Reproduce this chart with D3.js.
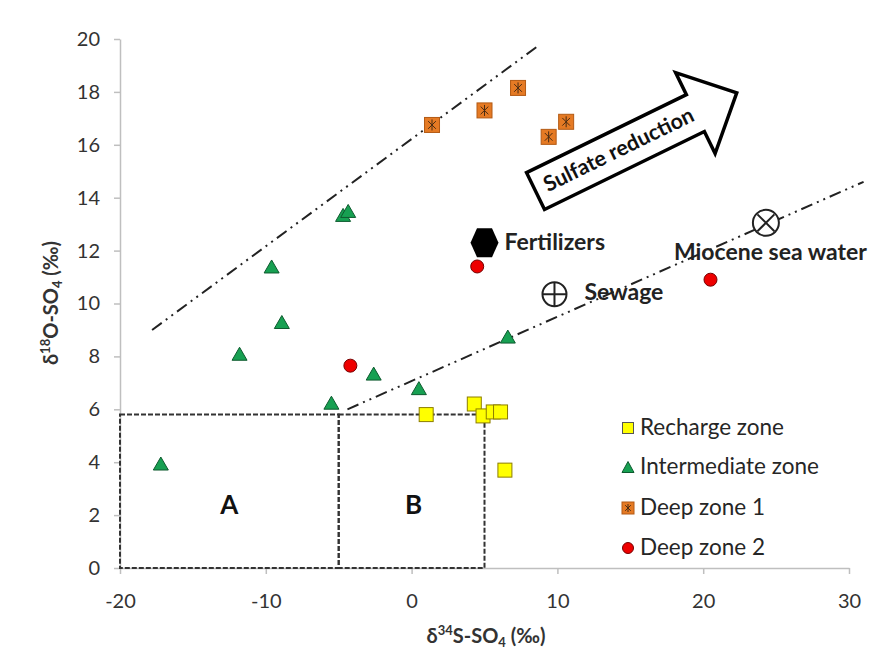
<!DOCTYPE html>
<html>
<head>
<meta charset="utf-8">
<script src="https://cdn.jsdelivr.net/npm/d3@7"></script>
<style>
  html, body { margin: 0; padding: 0; background: #fff; }
  svg { display: block; font-family: Lato, "Open Sans", sans-serif; }
</style>
</head>
<body>
<svg id="chart" width="875" height="652"></svg>
<script>
// δ34S (x) and δ18O (y) of dissolved sulfate, per groundwater zone
const rechargeX = [1.0, 4.3, 4.9, 5.6, 6.1, 6.4];
const rechargeY = [5.8, 6.2, 5.75, 5.9, 5.9, 3.7];

const intermediateX = [-17.2, -11.8, -9.6, -8.9, -4.7, -4.35, -5.5, -2.6, 0.5, 6.6];
const intermediateY = [3.95, 8.1, 11.4, 9.3, 13.35, 13.5, 6.25, 7.35, 6.8, 8.75];

const deep1X = [1.4, 5.0, 7.3, 9.4, 10.6];
const deep1Y = [16.75, 17.3, 18.15, 16.3, 16.87];

const deep2X = [4.5, -4.2, 20.5];
const deep2Y = [11.4, 7.65, 10.9];

// end-member sources
const sourceNames = ["Fertilizers", "Sewage", "Miocene sea water"];
const sourceX = [5.0, 9.8, 24.3];
const sourceY = [12.3, 10.35, 13.05];

// trend lines (start / end)
const upperLineX = [-17.8, 8.7];
const upperLineY = [9.0, 19.75];
const lowerLineX = [-4.4, 31.0];
const lowerLineY = [6.0, 14.6];

// boxed fields A and B
const boxNames = ["A", "B"];
const boxX0 = [-20, -5];
const boxX1 = [-5, 5];
const boxTop = [5.8, 5.8];

// sulfate-reduction arrow: tail centre and tip
const arrowX = [8.5, 22.3];
const arrowY = [14.25, 17.96];

const xTicks = [-20, -10, 0, 10, 20, 30];
const yTicks = [0, 2, 4, 6, 8, 10, 12, 14, 16, 18, 20];
const legendNames = ["Recharge zone", "Intermediate zone", "Deep zone 1", "Deep zone 2"];

const svg = d3.select("#chart");
const x = d3.scaleLinear().domain([-20, 30]).range([120, 849]);
const y = d3.scaleLinear().domain([0, 20]).range([568, 39]);

const axisColor = "#bfbfbf";
const tickText = "#333";
const fmt = d => String(d);

// axes
const gx = svg.append("g").attr("transform", `translate(0,${y(0)})`)
  .call(d3.axisBottom(x).tickValues(xTicks).tickFormat(fmt).tickSize(6).tickSizeOuter(0).tickPadding(20));
const gy = svg.append("g").attr("transform", `translate(${x(-20)},0)`)
  .call(d3.axisLeft(y).tickValues(yTicks).tickFormat(fmt).tickSize(6).tickSizeOuter(0).tickPadding(14));
[gx, gy].forEach(g => {
  g.select(".domain").attr("stroke", axisColor).attr("stroke-width", 1.5);
  g.selectAll(".tick line").attr("stroke", axisColor).attr("stroke-width", 1.5);
  g.selectAll(".tick text").attr("fill", tickText).attr("font-size", 20)
    .attr("font-family", "Lato, sans-serif");
});

// axis titles
const xt = svg.append("text").attr("x", 486).attr("y", 643).attr("text-anchor", "middle")
  .attr("font-size", 20).attr("font-weight", "bold").attr("fill", "#333");
xt.append("tspan").text("δ");
xt.append("tspan").attr("font-size", 13).attr("dy", -8).text("34");
xt.append("tspan").attr("dy", 8).text("S-SO");
xt.append("tspan").attr("font-size", 13).attr("dy", 4).text("4");
xt.append("tspan").attr("dy", -4).text(" (‰)");

const yt = svg.append("text").attr("transform", "translate(58,303) rotate(-90)")
  .attr("text-anchor", "middle").attr("font-size", 20).attr("font-weight", "bold").attr("fill", "#333");
yt.append("tspan").text("δ");
yt.append("tspan").attr("font-size", 13).attr("dy", -8).text("18");
yt.append("tspan").attr("dy", 8).text("O-SO");
yt.append("tspan").attr("font-size", 13).attr("dy", 4).text("4");
yt.append("tspan").attr("dy", -4).text(" (‰)");

// dashed boxes
const boxes = svg.append("g");
boxNames.forEach((name, i) => {
  boxes.append("rect")
    .attr("x", x(boxX0[i])).attr("y", y(boxTop[i]))
    .attr("width", x(boxX1[i]) - x(boxX0[i])).attr("height", y(0) - y(boxTop[i]))
    .attr("fill", "none").attr("stroke", "#333").attr("stroke-width", 2)
    .attr("stroke-dasharray", "5,2");
  boxes.append("text")
    .attr("x", (x(boxX0[i]) + x(boxX1[i])) / 2 + (i === 0 ? 0 : 2)).attr("y", y(2.3))
    .attr("text-anchor", "middle").attr("dominant-baseline", "middle")
    .attr("font-size", 26).attr("font-weight", "bold").attr("fill", "#111").text(name);
});

// trend lines
const line = d3.line();
[[upperLineX, upperLineY], [lowerLineX, lowerLineY]].forEach(([lx, ly]) => {
  svg.append("path")
    .attr("d", line(lx.map((v, i) => [x(v), y(ly[i])])))
    .attr("fill", "none").attr("stroke", "#222").attr("stroke-width", 2)
    .attr("stroke-dasharray", "12,5,2,5,2,5");
});

// sulfate-reduction block arrow
(function () {
  const x0 = x(arrowX[0]), y0 = y(arrowY[0]);
  const x1 = x(arrowX[1]), y1 = y(arrowY[1]);
  const len = Math.hypot(x1 - x0, y1 - y0);
  const ang = Math.atan2(y1 - y0, x1 - x0) * 180 / Math.PI;
  const shaftH = 20.5, headH = 45, headL = 46;
  const g = svg.append("g").attr("transform", `translate(${x0},${y0}) rotate(${ang})`);
  g.append("path")
    .attr("d", `M0,${-shaftH} L${len - headL},${-shaftH} L${len - headL},${-headH} L${len},0 ` +
               `L${len - headL},${headH} L${len - headL},${shaftH} L0,${shaftH} Z`)
    .attr("fill", "#fff").attr("stroke", "#000").attr("stroke-width", 3.5)
    .attr("stroke-linejoin", "miter");
  g.append("text").attr("x", (len - headL) / 2 + 4).attr("y", 1)
    .attr("text-anchor", "middle").attr("dominant-baseline", "middle")
    .attr("font-size", 21.5).attr("font-weight", "bold").attr("fill", "#111")
    .text("Sulfate reduction");
})();

// marker painters
function square(g, cx, cy, s, fill, stroke) {
  g.append("rect").attr("x", cx - s / 2).attr("y", cy - s / 2).attr("width", s).attr("height", s)
    .attr("fill", fill).attr("stroke", stroke).attr("stroke-width", 1);
}
function triangle(g, cx, cy, w, h) {
  g.append("path")
    .attr("d", `M${cx},${cy - h / 2} L${cx + w / 2},${cy + h / 2} L${cx - w / 2},${cy + h / 2} Z`)
    .attr("fill", "#17a052").attr("stroke", "#0d5a2e").attr("stroke-width", 1);
}
function starSquare(g, cx, cy, s) {
  square(g, cx, cy, s, "#e57a24", "#b35a14");
  const r = s / 2 - 2;
  g.append("path")
    .attr("d", `M${cx},${cy - r} L${cx},${cy + r} M${cx - r * 0.7},${cy - r * 0.7} L${cx + r * 0.7},${cy + r * 0.7} ` +
               `M${cx + r * 0.7},${cy - r * 0.7} L${cx - r * 0.7},${cy + r * 0.7}`)
    .attr("stroke", "#4a2c12").attr("stroke-width", 1);
}
function dot(g, cx, cy, r) {
  g.append("circle").attr("cx", cx).attr("cy", cy).attr("r", r)
    .attr("fill", "#ee0000").attr("stroke", "#700").attr("stroke-width", 1);
}

// source end-members
const src = svg.append("g");
(function () {
  // fertilizers: black hexagon
  const cx = x(sourceX[0]), cy = y(sourceY[0]);
  src.append("path")
    .attr("d", `M${cx - 14},${cy} L${cx - 7.5},${cy - 14.5} L${cx + 7.5},${cy - 14.5} L${cx + 14},${cy} ` +
               `L${cx + 7.5},${cy + 14.5} L${cx - 7.5},${cy + 14.5} Z`)
    .attr("fill", "#000");
  src.append("text").attr("x", cx + 20).attr("y", cy + 1).attr("dominant-baseline", "middle")
    .attr("font-size", 23).attr("font-weight", "bold").attr("fill", "#222").text(sourceNames[0]);

  // sewage: circled plus
  const sx = x(sourceX[1]), sy = y(sourceY[1]), r = 12;
  src.append("circle").attr("cx", sx).attr("cy", sy).attr("r", r)
    .attr("fill", "#fff").attr("stroke", "#222").attr("stroke-width", 2);
  src.append("path").attr("d", `M${sx - r},${sy} L${sx + r},${sy} M${sx},${sy - r} L${sx},${sy + r}`)
    .attr("stroke", "#222").attr("stroke-width", 2);
  src.append("text").attr("x", sx + 30).attr("y", sy).attr("dominant-baseline", "middle")
    .attr("font-size", 23).attr("font-weight", "bold").attr("fill", "#222").text(sourceNames[1]);

  // Miocene sea water: circled cross
  const mx = x(sourceX[2]), my = y(sourceY[2]), d = r * Math.SQRT1_2;
  src.append("circle").attr("cx", mx).attr("cy", my).attr("r", r + 1)
    .attr("fill", "#fff").attr("stroke", "#222").attr("stroke-width", 2);
  src.append("path").attr("d", `M${mx - d},${my - d} L${mx + d},${my + d} M${mx + d},${my - d} L${mx - d},${my + d}`)
    .attr("stroke", "#222").attr("stroke-width", 2);
  src.append("text").attr("x", mx - 92).attr("y", my + 31).attr("dominant-baseline", "middle")
    .attr("font-size", 23).attr("font-weight", "bold").attr("fill", "#222").text(sourceNames[2]);
})();

// sample points
const pts = svg.append("g");
intermediateX.forEach((v, i) => triangle(pts, x(v), y(intermediateY[i]), 15, 13));
deep2X.forEach((v, i) => dot(pts, x(v), y(deep2Y[i]), 6.5));
rechargeX.forEach((v, i) => square(pts, x(v), y(rechargeY[i]), 14, "#ffff00", "#8c7d00"));
deep1X.forEach((v, i) => starSquare(pts, x(v), y(deep1Y[i]), 15));

// legend
const leg = svg.append("g");
const legY = [428, 467, 508, 548];
legendNames.forEach((name, i) => {
  const cx = 628, cy = legY[i];
  if (i === 0) square(leg, cx, cy, 11, "#ffff00", "#555");
  if (i === 1) triangle(leg, cx, cy, 12, 11);
  if (i === 2) starSquare(leg, cx, cy, 12);
  if (i === 3) dot(leg, cx, cy, 5.5);
  leg.append("text").attr("x", 640).attr("y", cy + 1).attr("dominant-baseline", "middle")
    .attr("font-size", 22.5).attr("fill", "#262626").text(name);
});
</script>
</body>
</html>
